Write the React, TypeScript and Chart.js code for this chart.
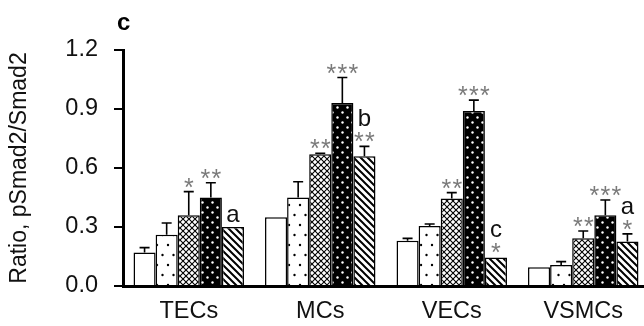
import React, { useEffect, useRef } from 'react';
import { Chart, registerables } from 'chart.js';

Chart.register(...registerables);

const categories = ['TECs', 'MCs', 'VECs', 'VSMCs'];
const yTicks = [0, 0.3, 0.6, 0.9, 1.2];
const yTitle = 'Ratio, pSmad2/Smad2';
const panelLabel = 'c';

// series values per category (TECs, MCs, VECs, VSMCs)
const series1 = [0.17, 0.35, 0.23, 0.095];
const series2 = [0.26, 0.45, 0.305, 0.107];
const series3 = [0.36, 0.67, 0.445, 0.243];
const series4 = [0.45, 0.93, 0.89, 0.36];
const series5 = [0.3, 0.66, 0.145, 0.226];

// upper error (SE) per bar
const error1 = [0.025, 0, 0.012, 0];
const error2 = [0.06, 0.08, 0.01, 0.017];
const error3 = [0.12, 0.005, 0.03, 0.037];
const error4 = [0.075, 0.13, 0.055, 0.077];
const error5 = [0, 0.05, 0, 0.039];

// significance marks
const stars1 = ['', '', '', ''];
const stars2 = ['', '', '', ''];
const stars3 = ['*', '**', '**', '**'];
const stars4 = ['**', '***', '***', '***'];
const stars5 = ['', '**', '*', '*'];
const letters5 = ['a', 'b', 'c', 'a'];
const noLetters = ['', '', '', ''];

const FONT = '"Liberation Sans", Arial, Helvetica, sans-serif';

function makePattern(kind: string): CanvasPattern | string {
  if (kind === 'white') return '#ffffff';
  const c = document.createElement('canvas');
  const g = c.getContext('2d') as CanvasRenderingContext2D;
  const dot = (x: number, y: number, r: number) => {
    g.beginPath();
    g.arc(x, y, r, 0, Math.PI * 2);
    g.fill();
  };
  if (kind === 'dots') {
    c.width = 11; c.height = 20;
    g.fillStyle = '#fff'; g.fillRect(0, 0, 11, 20);
    g.fillStyle = '#000';
    dot(3, 5, 1.2); dot(8.5, 15, 1.2);
  } else if (kind === 'cross') {
    c.width = 6; c.height = 6;
    g.fillStyle = '#fff'; g.fillRect(0, 0, 6, 6);
    g.strokeStyle = '#000'; g.lineWidth = 1.1;
    g.beginPath();
    g.moveTo(-1, -1); g.lineTo(7, 7);
    g.moveTo(7, -1); g.lineTo(-1, 7);
    g.stroke();
  } else if (kind === 'black') {
    c.width = 10; c.height = 10;
    g.fillStyle = '#000'; g.fillRect(0, 0, 10, 10);
    g.fillStyle = '#fff';
    dot(2.5, 2.5, 1.2); dot(7.5, 7.5, 1.2);
  } else if (kind === 'diag') {
    c.width = 7; c.height = 7;
    g.fillStyle = '#fff'; g.fillRect(0, 0, 7, 7);
    g.strokeStyle = '#000'; g.lineWidth = 2;
    g.beginPath();
    g.moveTo(-1, -1); g.lineTo(8, 8);
    g.moveTo(-1, 6); g.lineTo(1, 8);
    g.moveTo(6, -1); g.lineTo(8, 1);
    g.stroke();
  }
  return g.createPattern(c, 'repeat') as CanvasPattern;
}

const seriesList = [
  { values: series1, errors: error1, stars: stars1, letters: noLetters, fill: 'white' },
  { values: series2, errors: error2, stars: stars2, letters: noLetters, fill: 'dots' },
  { values: series3, errors: error3, stars: stars3, letters: noLetters, fill: 'cross' },
  { values: series4, errors: error4, stars: stars4, letters: noLetters, fill: 'black' },
  { values: series5, errors: error5, stars: stars5, letters: letters5, fill: 'diag' },
];

const overlayPlugin = {
  id: 'overlay',
  afterDatasetsDraw(chart: any) {
    const ctx: CanvasRenderingContext2D = chart.ctx;
    const yScale = chart.scales.y;
    ctx.save();
    seriesList.forEach((s, i) => {
      const meta = chart.getDatasetMeta(i);
      meta.data.forEach((el: any, j: number) => {
        const v = s.values[j];
        const e = s.errors[j];
        const top = yScale.getPixelForValue(v + e);
        const x = el.x;
        if (e > 0) {
          ctx.strokeStyle = '#000';
          ctx.lineWidth = 1.6;
          ctx.beginPath();
          ctx.moveTo(x, el.y);
          ctx.lineTo(x, top);
          ctx.moveTo(x - 5, top);
          ctx.lineTo(x + 5, top);
          ctx.stroke();
        }
        const st = s.stars[j];
        if (st) {
          ctx.fillStyle = '#7a7a7a';
          ctx.font = `25px ${FONT}`;
          ctx.textAlign = 'center';
          ctx.textBaseline = 'alphabetic';
          const n = st.length;
          for (let k = 0; k < n; k++) {
            ctx.fillText('*', x + (k - (n - 1) / 2) * 11, top + 4);
          }
        }
        const lt = s.letters[j];
        if (lt) {
          ctx.fillStyle = '#111';
          ctx.font = `24px ${FONT}`;
          ctx.textAlign = 'center';
          ctx.textBaseline = 'alphabetic';
          const base = st ? top - 20 : top - 5;
          ctx.fillText(lt, x, base);
        }
      });
    });
    ctx.fillStyle = '#000';
    ctx.font = `bold 24px ${FONT}`;
    ctx.textAlign = 'left';
    ctx.textBaseline = 'alphabetic';
    ctx.fillText(panelLabel, 117, 30);
    ctx.restore();
  },
};

export default function App() {
  const ref = useRef<HTMLCanvasElement | null>(null);
  useEffect(() => {
    const canvas = ref.current;
    if (!canvas) return;
    const chart = new Chart(canvas, {
      type: 'bar',
      data: {
        labels: categories,
        datasets: seriesList.map((s, i) => ({
          label: `Series ${i + 1}`,
          data: s.values,
          backgroundColor: makePattern(s.fill) as any,
          borderColor: '#000',
          borderWidth: 1.5,
          barPercentage: 1,
          categoryPercentage: 0.84,
        })),
      },
      options: {
        responsive: false,
        animation: false,
        devicePixelRatio: 1,
        layout: { padding: { top: 50, right: 11, bottom: 0, left: 0 } },
        plugins: {
          legend: { display: false },
          tooltip: { enabled: false },
          title: { display: false },
        },
        scales: {
          x: {
            type: 'category',
            grid: { display: false, drawTicks: false },
            border: { display: true, width: 3, color: '#000' },
            afterFit: (scale: any) => {
              scale.height = 40;
            },
            ticks: {
              color: '#111',
              font: { family: FONT, size: 23.5 },
              padding: 11,
              maxRotation: 0,
            },
          },
          y: {
            min: 0,
            max: 1.2,
            afterBuildTicks: (scale: any) => {
              scale.ticks = yTicks.map((v) => ({ value: v }));
            },
            afterFit: (scale: any) => {
              scale.width = 123;
            },
            grid: {
              display: true,
              drawOnChartArea: false,
              drawTicks: true,
              tickLength: 9,
              lineWidth: 2,
              color: '#000',
            },
            border: { display: true, width: 3, color: '#000' },
            ticks: {
              color: '#111',
              font: { family: FONT, size: 23.5 },
              padding: 16,
              callback: (v: any) => Number(v).toFixed(1),
            },
            title: {
              display: true,
              text: yTitle,
              color: '#111',
              font: { family: FONT, size: 23 },
              padding: { top: 6, bottom: 0 },
            },
          },
        },
      },
      plugins: [overlayPlugin],
    });
    return () => chart.destroy();
  }, []);
  return (
    <div style={{ position: 'fixed', left: 0, top: 0, width: 644, height: 326, overflow: 'hidden', background: '#fff' }}>
      <canvas ref={ref} width={660} height={326} style={{ display: 'block', width: 660, height: 326 }} />
    </div>
  );
}
